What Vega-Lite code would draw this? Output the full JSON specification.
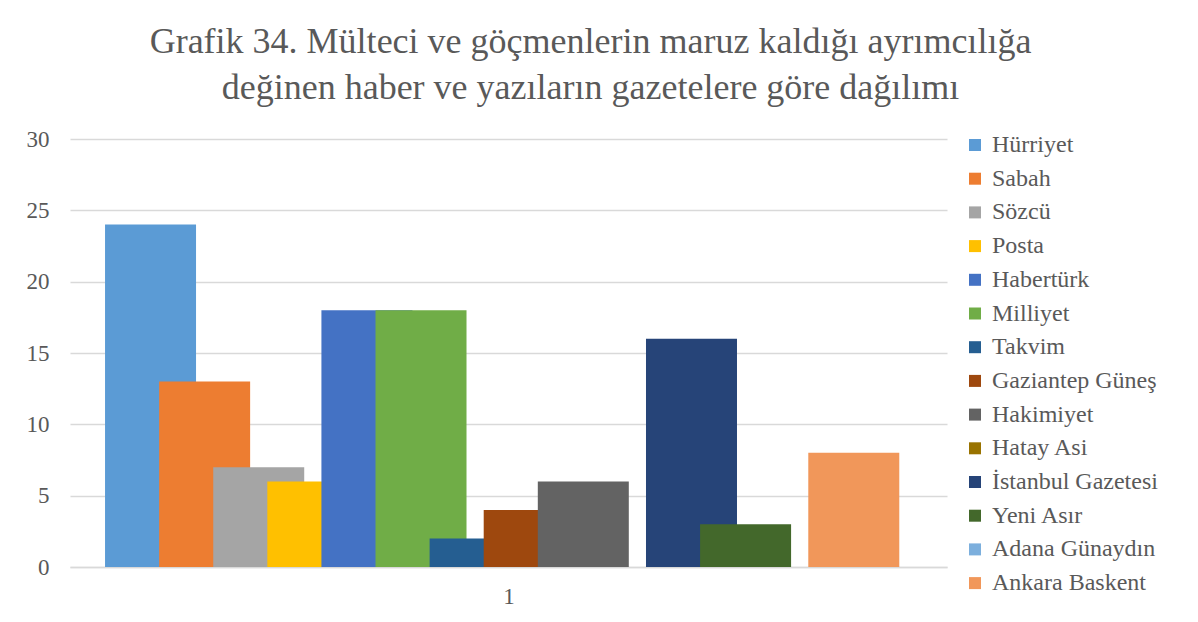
{
  "$schema": "https://vega.github.io/schema/vega-lite/v6.json",
  "width": 877,
  "height": 428,
  "autosize": {"type": "none"},
  "padding": {"left": 70, "top": 139, "right": 251, "bottom": 55},
  "background": "white",
  "title": {
    "text": ["Grafik 34. Mülteci ve göçmenlerin maruz kaldığı ayrımcılığa", "değinen haber ve yazıların gazetelere göre dağılımı"],
    "font": "Liberation Serif",
    "fontSize": 36,
    "fontWeight": "normal",
    "color": "#595959",
    "anchor": "middle",
    "frame": "group",
    "dx": 82,
    "lineHeight": 46,
    "offset": 21
  },
  "data": {
    "values": [
      {"kategori": "1", "gazete": "Hürriyet", "deger": 24},
      {"kategori": "1", "gazete": "Sabah", "deger": 13},
      {"kategori": "1", "gazete": "Sözcü", "deger": 7},
      {"kategori": "1", "gazete": "Posta", "deger": 6},
      {"kategori": "1", "gazete": "Habertürk", "deger": 18},
      {"kategori": "1", "gazete": "Milliyet", "deger": 18},
      {"kategori": "1", "gazete": "Takvim", "deger": 2},
      {"kategori": "1", "gazete": "Gaziantep Güneş", "deger": 4},
      {"kategori": "1", "gazete": "Hakimiyet", "deger": 6},
      {"kategori": "1", "gazete": "Hatay Asi", "deger": 0},
      {"kategori": "1", "gazete": "İstanbul Gazetesi", "deger": 16},
      {"kategori": "1", "gazete": "Yeni Asır", "deger": 3},
      {"kategori": "1", "gazete": "Adana Günaydın", "deger": 0},
      {"kategori": "1", "gazete": "Ankara Baskent", "deger": 8}
    ]
  },
  "mark": {"type": "bar", "width": 91},
  "encoding": {
    "x": {
      "field": "kategori",
      "type": "nominal",
      "scale": {"paddingInner": 0, "paddingOuter": 0.079, "align": 0.447},
      "axis": {
        "labels": false,
        "ticks": false,
        "title": "1",
        "titleFont": "Liberation Serif",
        "titleFontSize": 23,
        "titleFontWeight": "normal",
        "titleColor": "#595959",
        "titlePadding": 18,
        "domainColor": "#d9d9d9",
        "domainWidth": 1.5
      }
    },
    "xOffset": {
      "field": "gazete",
      "type": "nominal",
      "sort": null,
      "scale": {"paddingInner": 0, "paddingOuter": 0}
    },
    "y": {
      "field": "deger",
      "type": "quantitative",
      "scale": {"domain": [0, 30]},
      "axis": {
        "values": [0, 5, 10, 15, 20, 25, 30],
        "title": null,
        "domain": false,
        "ticks": false,
        "labelFont": "Liberation Serif",
        "labelFontSize": 23,
        "labelColor": "#595959",
        "labelPadding": 21,
        "gridColor": "#d9d9d9",
        "gridWidth": 1.5
      }
    },
    "color": {
      "field": "gazete",
      "type": "nominal",
      "sort": null,
      "scale": {
        "domain": ["Hürriyet", "Sabah", "Sözcü", "Posta", "Habertürk", "Milliyet", "Takvim", "Gaziantep Güneş", "Hakimiyet", "Hatay Asi", "İstanbul Gazetesi", "Yeni Asır", "Adana Günaydın", "Ankara Baskent"],
        "range": ["#5B9BD5", "#ED7D31", "#A5A5A5", "#FFC000", "#4472C4", "#70AD47", "#255E91", "#9E480E", "#636363", "#997300", "#264478", "#43682B", "#7CAFDD", "#F1975A"]
      },
      "legend": {
        "orient": "none",
        "legendX": 893,
        "legendY": -6,
        "title": null,
        "symbolType": "square",
        "symbolSize": 144,
        "symbolStrokeWidth": 0,
        "labelFont": "Liberation Serif",
        "labelFontSize": 24,
        "labelColor": "#595959",
        "labelOffset": 5,
        "rowPadding": 9.7,
        "labelLimit": 300
      }
    }
  },
  "config": {"view": {"stroke": null}}
}
